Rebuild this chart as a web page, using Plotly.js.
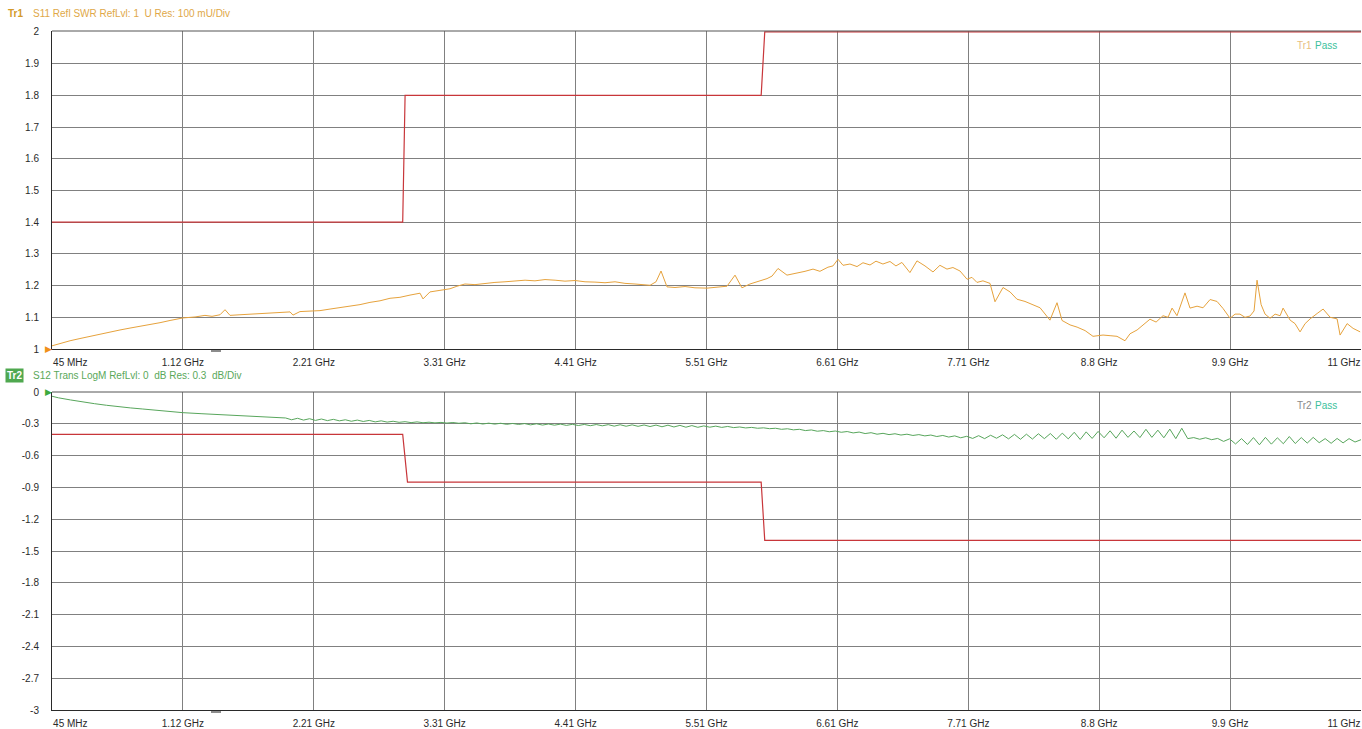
<!DOCTYPE html>
<html>
<head>
<meta charset="utf-8">
<script src="https://cdn.plot.ly/plotly-3.0.1.min.js"></script>
<style>html,body{margin:0;padding:0;background:#fff;}#chart{width:1362px;height:729px;}</style>
</head>
<body>
<div id="chart"></div>
<script>
// ---------- DATA ----------
const freqStartGHz = 0.045;
const freqStopGHz = 11;
const freqTickText = ["45 MHz","1.12 GHz","2.21 GHz","3.31 GHz","4.41 GHz","5.51 GHz","6.61 GHz","7.71 GHz","8.8 GHz","9.9 GHz","11 GHz"];

const swrTickVals = [1,1.1,1.2,1.3,1.4,1.5,1.6,1.7,1.8,1.9,2];
const swrTickText = ["1","1.1","1.2","1.3","1.4","1.5","1.6","1.7","1.8","1.9","2"];
const s12TickVals = [0,-0.3,-0.6,-0.9,-1.2,-1.5,-1.8,-2.1,-2.4,-2.7,-3];
const s12TickText = ["0","-0.3","-0.6","-0.9","-1.2","-1.5","-1.8","-2.1","-2.4","-2.7","-3"];

// Tr1: S11 SWR trace
const swrFreq = [0.045,0.112,0.196,0.279,0.363,0.447,0.530,0.614,0.698,0.781,0.865,0.949,1.033,1.141,1.242,1.325,1.384,1.451,1.493,1.535,1.618,1.702,1.786,1.869,1.953,2.037,2.062,2.120,2.229,2.288,2.372,2.455,2.539,2.623,2.706,2.790,2.874,2.957,3.041,3.125,3.150,3.208,3.292,3.376,3.434,3.501,3.585,3.669,3.752,3.836,3.920,4.004,4.087,4.171,4.255,4.338,4.422,4.506,4.589,4.673,4.757,4.840,4.924,5.008,5.050,5.100,5.142,5.192,5.259,5.343,5.426,5.527,5.610,5.694,5.761,5.819,5.886,5.970,6.029,6.071,6.121,6.196,6.263,6.347,6.414,6.472,6.539,6.581,6.623,6.665,6.723,6.782,6.832,6.891,6.941,6.999,7.058,7.108,7.158,7.225,7.284,7.351,7.418,7.476,7.535,7.585,7.644,7.703,7.744,7.786,7.836,7.895,7.937,8.004,8.063,8.121,8.188,8.247,8.314,8.397,8.456,8.498,8.565,8.624,8.691,8.757,8.841,8.900,8.958,9.025,9.067,9.126,9.176,9.234,9.285,9.343,9.385,9.419,9.460,9.527,9.569,9.628,9.678,9.737,9.795,9.845,9.904,9.946,9.987,10.029,10.071,10.105,10.130,10.164,10.197,10.239,10.281,10.323,10.348,10.407,10.448,10.490,10.532,10.574,10.633,10.683,10.742,10.800,10.825,10.884,10.934,10.993];
const swrValue = [1.010,1.018,1.026,1.033,1.040,1.046,1.055,1.060,1.066,1.071,1.078,1.083,1.090,1.098,1.101,1.106,1.103,1.108,1.124,1.106,1.108,1.110,1.112,1.113,1.115,1.117,1.107,1.118,1.120,1.121,1.126,1.130,1.136,1.140,1.147,1.152,1.160,1.163,1.170,1.176,1.158,1.180,1.185,1.190,1.198,1.205,1.203,1.207,1.210,1.212,1.214,1.217,1.215,1.219,1.217,1.214,1.216,1.212,1.211,1.209,1.212,1.207,1.205,1.203,1.201,1.212,1.246,1.196,1.194,1.197,1.193,1.192,1.196,1.198,1.233,1.193,1.205,1.215,1.222,1.230,1.254,1.233,1.238,1.245,1.252,1.245,1.258,1.262,1.283,1.264,1.268,1.260,1.272,1.265,1.277,1.268,1.276,1.262,1.273,1.241,1.278,1.262,1.243,1.264,1.252,1.257,1.246,1.220,1.226,1.210,1.215,1.207,1.149,1.194,1.180,1.157,1.150,1.140,1.130,1.091,1.146,1.090,1.076,1.069,1.058,1.040,1.044,1.042,1.040,1.026,1.048,1.060,1.075,1.094,1.085,1.105,1.100,1.129,1.105,1.177,1.129,1.135,1.130,1.156,1.150,1.128,1.097,1.110,1.110,1.100,1.104,1.120,1.217,1.140,1.110,1.097,1.110,1.105,1.129,1.091,1.080,1.054,1.080,1.095,1.112,1.126,1.100,1.095,1.044,1.080,1.065,1.054];

// Tr1 limit line
const swrLimitFreq = [0.045,2.98,3.0,5.98,6.01,11];
const swrLimitValue = [1.4,1.4,1.8,1.8,2.0,2.0];

// Tr2: S12 transmission trace (dB)
const s12Freq = [0.045,0.1,0.2,0.3,0.4,0.5,0.6,0.7,0.8,0.9,1.0,1.14,1.3,1.5,1.7,1.9,
2.00,2.05,2.10,2.15,2.20,2.25,2.30,2.35,2.40,2.45,2.50,2.55,2.60,2.65,2.70,2.75,2.80,2.85,2.90,2.95,
3.00,3.05,3.10,3.15,3.20,3.25,3.30,3.35,3.40,3.45,3.50,3.55,3.60,3.65,3.70,3.75,3.80,3.85,3.90,3.95,
4.00,4.05,4.10,4.15,4.20,4.25,4.30,4.35,4.40,4.45,4.50,4.55,4.60,4.65,4.70,4.75,4.80,4.85,4.90,4.95,
5.00,5.05,5.10,5.15,5.20,5.25,5.30,5.35,5.40,5.45,5.50,5.55,5.60,5.65,5.70,5.75,5.80,5.85,5.90,5.95,
6.00,6.05,6.10,6.15,6.20,6.25,6.30,6.35,6.40,6.45,6.50,6.55,6.60,6.65,6.70,6.75,6.80,6.85,6.90,6.95,
7.00,7.05,7.10,7.15,7.20,7.25,7.30,7.35,7.40,7.45,7.50,7.55,7.60,7.65,7.70,7.75,7.80,7.85,7.90,7.95,
8.00,8.05,8.10,8.15,8.20,8.25,8.30,8.35,8.40,8.45,8.50,8.55,8.60,8.65,8.70,8.75,8.80,8.85,8.90,8.95,
9.00,9.05,9.10,9.15,9.20,9.25,9.30,9.35,9.40,9.45,9.50,9.55,9.60,9.65,9.70,9.75,9.80,9.85,9.90,9.95,
10.00,10.05,10.10,10.15,10.20,10.25,10.30,10.35,10.40,10.45,10.50,10.55,10.60,10.65,10.70,10.75,10.80,10.85,10.90,10.95,11.00];
const s12Value = [-0.040,-0.055,-0.075,-0.095,-0.110,-0.125,-0.140,-0.150,-0.160,-0.172,-0.182,-0.195,-0.205,-0.218,-0.228,-0.238,
-0.245,-0.262,-0.248,-0.265,-0.252,-0.268,-0.255,-0.270,-0.258,-0.272,-0.262,-0.276,-0.265,-0.278,-0.268,-0.282,-0.272,-0.284,-0.276,-0.286,
-0.280,-0.289,-0.282,-0.290,-0.285,-0.291,-0.287,-0.293,-0.288,-0.295,-0.290,-0.300,-0.292,-0.302,-0.294,-0.303,-0.295,-0.305,-0.297,-0.306,
-0.298,-0.310,-0.300,-0.312,-0.302,-0.313,-0.303,-0.315,-0.305,-0.316,-0.306,-0.318,-0.307,-0.319,-0.308,-0.322,-0.309,-0.323,-0.310,-0.324,
-0.311,-0.326,-0.312,-0.328,-0.313,-0.330,-0.315,-0.332,-0.317,-0.333,-0.320,-0.332,-0.322,-0.334,-0.325,-0.336,-0.330,-0.339,-0.334,-0.342,
-0.338,-0.346,-0.342,-0.352,-0.347,-0.357,-0.352,-0.364,-0.358,-0.370,-0.364,-0.375,-0.368,-0.380,-0.373,-0.386,-0.378,-0.392,-0.384,-0.398,
-0.390,-0.402,-0.394,-0.406,-0.398,-0.410,-0.402,-0.414,-0.406,-0.420,-0.410,-0.425,-0.414,-0.432,-0.418,-0.438,-0.412,-0.440,-0.408,-0.436,
-0.404,-0.442,-0.400,-0.446,-0.398,-0.444,-0.394,-0.440,-0.392,-0.446,-0.388,-0.442,-0.380,-0.448,-0.376,-0.438,-0.372,-0.432,-0.366,-0.436,
-0.360,-0.428,-0.368,-0.430,-0.352,-0.428,-0.360,-0.432,-0.350,-0.440,-0.342,-0.440,-0.430,-0.446,-0.432,-0.450,-0.438,-0.466,-0.442,-0.490,
-0.440,-0.495,-0.430,-0.498,-0.428,-0.492,-0.432,-0.488,-0.420,-0.486,-0.430,-0.482,-0.428,-0.478,-0.440,-0.484,-0.438,-0.480,-0.440,-0.472,-0.450];

// Tr2 limit line
const s12LimitFreq = [0.045,2.98,3.02,5.98,6.01,11];
const s12LimitValue = [-0.4,-0.4,-0.85,-0.85,-1.4,-1.4];

// ---------- STYLE / LAYOUT ----------
const W = 1362, H = 729, L = 52, R = 1;
const plotW = W - L - R;
const px2x = px => (px - L) / plotW;
const py2y = py => (H - py) / H;

const nDiv = 10;
const gridVals = [];
for (let i = 0; i <= nDiv; i++) gridVals.push(freqStartGHz + (freqStopGHz - freqStartGHz) * i / nDiv);
const span = freqStopGHz - freqStartGHz;
const labelVals = gridVals.map((v, i) => i === 0 ? v + span * 0.014 : (i === nDiv ? v - span * 0.013 : v));

const FONT = "Liberation Sans, Arial, sans-serif";
const GRID = "#808080";
const AXLINE = "#2a2a2a";
const RED = "#c8363a";
const ORANGE = "#e6a23c";
const GREEN = "#58a65c";

const topDomain = [py2y(349), py2y(31)];
const botDomain = [py2y(710), py2y(392)];

const baseX = {
  range: [freqStartGHz, freqStopGHz], tickmode: "array", tickvals: gridVals,
  showticklabels: false, showgrid: true, gridcolor: GRID, gridwidth: 1,
  zeroline: false, showline: true, linecolor: AXLINE, linewidth: 1, ticks: "", fixedrange: true
};
const labelX = {
  range: [freqStartGHz, freqStopGHz], tickmode: "array", tickvals: labelVals, ticktext: freqTickText,
  showgrid: false, zeroline: false, showline: false, ticks: "", side: "bottom",
  tickfont: {family: FONT, size: 10, color: "#2a2a2a"}, ticklabelstandoff: 6, fixedrange: true
};

const traces = [
  {x: swrLimitFreq, y: swrLimitValue, xaxis: "x", yaxis: "y", mode: "lines", line: {color: RED, width: 1.2}, hoverinfo: "skip"},
  {x: swrFreq, y: swrValue, xaxis: "x", yaxis: "y", mode: "lines", line: {color: ORANGE, width: 1}, hoverinfo: "skip"},
  {x: s12LimitFreq, y: s12LimitValue, xaxis: "x2", yaxis: "y2", mode: "lines", line: {color: RED, width: 1.2}, hoverinfo: "skip"},
  {x: s12Freq, y: s12Value, xaxis: "x2", yaxis: "y2", mode: "lines", line: {color: GREEN, width: 1}, hoverinfo: "skip"},
  {x: [freqStartGHz], y: [null], xaxis: "x3", yaxis: "y", mode: "lines", hoverinfo: "skip"},
  {x: [freqStartGHz], y: [null], xaxis: "x4", yaxis: "y2", mode: "lines", hoverinfo: "skip"}
];

const ann = (px, py, text, color, size, opts) => Object.assign({
  xref: "paper", yref: "paper", x: px2x(px), y: py2y(py), text: text, showarrow: false,
  xanchor: "left", yanchor: "middle", font: {family: FONT, size: size, color: color}
}, opts || {});

const layout = {
  width: W, height: H, margin: {l: L, r: R, t: 0, b: 0, pad: 0},
  paper_bgcolor: "#ffffff", plot_bgcolor: "#ffffff", showlegend: false,
  xaxis: Object.assign({}, baseX, {anchor: "y", domain: [0, 1]}),
  xaxis2: Object.assign({}, baseX, {anchor: "y2", domain: [0, 1]}),
  xaxis3: Object.assign({}, labelX, {anchor: "y", overlaying: "x"}),
  xaxis4: Object.assign({}, labelX, {anchor: "y2", overlaying: "x2"}),
  yaxis: {
    domain: topDomain, range: [1, 2.003], tickmode: "array", tickvals: swrTickVals, ticktext: swrTickText,
    showgrid: true, gridcolor: GRID, zeroline: false, showline: true, linecolor: AXLINE, ticks: "",
    tickfont: {family: FONT, size: 10, color: "#2a2a2a"}, ticklabelstandoff: 10, fixedrange: true
  },
  yaxis2: {
    domain: botDomain, range: [-3, 0], tickmode: "array", tickvals: s12TickVals, ticktext: s12TickText,
    showgrid: true, gridcolor: GRID, zeroline: false, showline: true, linecolor: AXLINE, ticks: "",
    tickfont: {family: FONT, size: 10, color: "#2a2a2a"}, ticklabelstandoff: 10, fixedrange: true
  },
  shapes: [
    {type: "line", xref: "paper", yref: "paper", x0: 0, x1: 1, y0: py2y(31), y1: py2y(31), line: {color: "#555", width: 1}},
    {type: "line", xref: "paper", yref: "paper", x0: 0, x1: 1, y0: py2y(392), y1: py2y(392), line: {color: "#555", width: 1}},
    {type: "line", xref: "paper", yref: "paper", x0: px2x(211), x1: px2x(221), y0: py2y(351), y1: py2y(351), line: {color: "#666", width: 1.5}},
    {type: "line", xref: "paper", yref: "paper", x0: px2x(211), x1: px2x(221), y0: py2y(712), y1: py2y(712), line: {color: "#666", width: 1.5}}
  ],
  annotations: [
    ann(6, 14, "<b>Tr1</b>", "#d49a2a", 10),
    ann(31, 14, "S11 Refl SWR RefLvl: 1\u00a0 U Res: 100 mU/Div", "#e0a848", 10),
    ann(5, 375, "<b>Tr2</b>", "#ffffff", 10, {bgcolor: "#4fa84f", borderpad: 1}),
    ann(31, 375, "S12 Trans LogM RefLvl: 0\u00a0 dB Res: 0.3\u00a0 dB/Div", "#5aa85a", 10),
    ann(1295, 45, "Tr1", "#e8c080", 10),
    ann(1313, 45, "Pass", "#3cbf9c", 10),
    ann(1295, 405, "Tr2", "#8a8a8a", 10),
    ann(1313, 405, "Pass", "#3cbf9c", 10),
    ann(43, 349, "\u25B6", "#f0901a", 9, {font: {family: "DejaVu Sans", size: 9, color: "#f0901a"}}),
    ann(43, 392, "\u25B6", "#3daa3d", 9, {font: {family: "DejaVu Sans", size: 9, color: "#3daa3d"}})
  ]
};

Plotly.newPlot("chart", traces, layout, {staticPlot: true, displayModeBar: false});
</script>
</body>
</html>
